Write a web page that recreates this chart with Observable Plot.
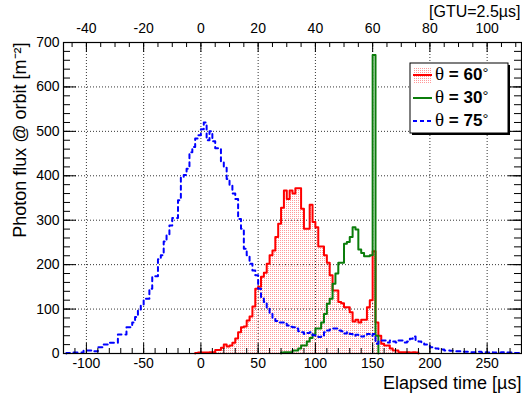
<!DOCTYPE html>
<html><head><meta charset="utf-8">
<script src="https://cdn.jsdelivr.net/npm/d3@7"></script>
<script src="https://cdn.jsdelivr.net/npm/@observablehq/plot@0.6"></script>
<style>body{margin:0;background:#fff} svg{display:block}</style>
</head><body><div id="chart"></div>
<script>
// ---- data (bin width 2.5 µs = 1 GTU) ----
const binWidth = 2.5;
const gtuMicroseconds = 2.5;

const redStart = -5;     // theta = 60°
const redValues = [1,2,2,2,2,3,3,8,8,13, 20,16,18,24,34,48,59,61,74,83,
  106,146,150,173,182,202,221,232,262,292, 328,367,348,367,360,372,372,326,281,281,
  335,296,284,241,241,221,204,176,142,142, 116,113,104,104,93,72,76,70,76,76,
  104,120,230,70,40,22,18,18,11,7, 7,3,3,3,3,2,3,2];

const greenStart = 70;   // theta = 30°
const greenValues = [2,3,3,3,7,7,11,18,18,27, 35,43,56,56,70,89,112,123,157,180,
  204,204,247,251,262,284,279,234,226,219, 219,221,672,40];

const blueStart = -117.5; // theta = 75°
const blueValues = [1,1,2,2,2,2,7,7,7,5, 5,14,14,20,20,24,24,24,43,43,
  43,59,59,70,82,99,110,123,123,146, 174,174,212,221,252,266,288,305,305,345,
  397,402,416,453,465,484,491,505,520,480, 500,478,462,462,430,418,393,378,360,348,
  303,281,236,221,202,187,176,146,127,116, 101,89,80,73,70,70,67,63,60,59,
  56,50,48,44,46,48,41,40,37,40, 48,52,54,56,56,52,50,45,48,44,
  40,42,40,38,40,44,40,44,22,27, 29,29,25,29,27,25,29,29,25,27,
  33,38,29,27,25,20,20,14,12,11, 9,9,7,7,6,6,5,5,4,4,
  4,3,3,3,4,2,3,2,3,2, 2,2,3,2,2,2,1,1,1];

const xMajorTicks = [-100,-50,0,50,100,150,200,250];
const xMinorTicks = d3.range(-120, 281, 10);
const gtuMajorTicks = [-40,-20,0,20,40,60,80,100];
const gtuMinorTicks = d3.range(-45, 112, 5);
const yMajorTicks = [0,100,200,300,400,500,600,700];
const yMinorTicks = d3.range(0, 701, 20);
const yGrid = [100,200,300,400,500,600];

const seriesLabels = ["60", "30", "75"];

function histPoints(start, values) {
  const pts = [{t: start, v: 0}];
  values.forEach((v, i) => pts.push({t: start + i * binWidth, v}));
  pts.push({t: start + values.length * binWidth, v: 0});
  return pts;
}
const red = histPoints(redStart, redValues);
const green = histPoints(greenStart, greenValues);
const blue = histPoints(blueStart, blueValues);

const W = 522, H = 401, mL = 63, mR = 1, mT = 42, mB = 48;
const fw = W - mL - mR, fh = H - mT - mB;
const font = "'Liberation Sans', Arial, Helvetica, sans-serif";

const chart = Plot.plot({
  width: W, height: H,
  marginLeft: mL, marginRight: mR, marginTop: mT, marginBottom: mB,
  style: {fontFamily: font, background: "#fff", color: "#000"},
  x: {domain: [-120, 280]},
  y: {domain: [0, 700]},
  marks: [
    Plot.ruleX(xMajorTicks, {x: d => d, stroke: "#000", strokeDasharray: "1,2", strokeOpacity: 0.8}),
    Plot.ruleY(yGrid, {y: d => d, stroke: "#000", strokeDasharray: "1,2", strokeOpacity: 0.8}),
    Plot.areaY(red, {x: "t", y: "v", curve: "step-after", fill: "url(#redDots)"}),
    Plot.line(red, {x: "t", y: "v", curve: "step-after", stroke: "#ff0000", strokeWidth: 2}),
    Plot.line(green, {x: "t", y: "v", curve: "step-after", stroke: "#0b7d0b", strokeWidth: 2}),
    Plot.line(blue, {x: "t", y: "v", curve: "step-after", stroke: "#0000ff", strokeWidth: 2, strokeDasharray: "4,4"}),
    // ticks (inward)
    Plot.tickX(xMinorTicks, {x: d => d, insetTop: fh - 5}),
    Plot.tickX(xMajorTicks, {x: d => d, insetTop: fh - 10}),
    Plot.tickX(gtuMinorTicks.map(g => g * gtuMicroseconds), {x: d => d, insetBottom: fh - 5}),
    Plot.tickX(gtuMajorTicks.map(g => g * gtuMicroseconds), {x: d => d, insetBottom: fh - 10}),
    Plot.tickY(yMinorTicks, {y: d => d, insetRight: fw - 7}),
    Plot.tickY(yMajorTicks, {y: d => d, insetRight: fw - 13}),
    Plot.tickY(yMinorTicks, {y: d => d, insetLeft: fw - 7}),
    Plot.tickY(yMajorTicks, {y: d => d, insetLeft: fw - 13}),
    Plot.axisX({anchor: "bottom", ticks: xMajorTicks, tickSize: 0, tickPadding: 5, fontSize: 14, tickFormat: d => String(d), label: null}),
    Plot.axisX({anchor: "top", ticks: gtuMajorTicks.map(g => g * gtuMicroseconds), tickSize: 0, tickPadding: 10, fontSize: 14, tickFormat: d => String(d / gtuMicroseconds), label: null}),
    Plot.axisY({anchor: "left", ticks: yMajorTicks, tickSize: 0, tickPadding: 4, fontSize: 14, tickFormat: d => String(d), label: null}),
    Plot.text(["Elapsed time [µs]"], {frameAnchor: "bottom-right", textAnchor: "end", lineAnchor: "bottom", dy: 35, fontSize: 18}),
    Plot.text(["[GTU=2.5µs]"], {frameAnchor: "top-right", textAnchor: "end", lineAnchor: "bottom", dy: -26, dx: -1, fontSize: 16}),
    Plot.text(["Photon flux @ orbit [m⁻²]"], {frameAnchor: "top-left", rotate: -90, textAnchor: "end", lineAnchor: "middle", dx: -43, fontSize: 18}),
    Plot.frame({stroke: "#000", strokeWidth: 1.2})
  ]
});

const svg = d3.select(chart);
const defs = svg.insert("defs", ":first-child");
const pat = defs.append("pattern").attr("id", "redDots").attr("width", 2).attr("height", 2).attr("patternUnits", "userSpaceOnUse");
pat.append("rect").attr("width", 1).attr("height", 1).attr("fill", "#ff0000").attr("fill-opacity", 0.4);

// legend
const lg = svg.append("g").attr("font-family", font).attr("text-anchor", "start");
lg.append("rect").attr("x", 412).attr("y", 65).attr("width", 98).attr("height", 70).attr("fill", "#000");
lg.append("rect").attr("x", 410).attr("y", 63).attr("width", 98).attr("height", 70).attr("fill", "#fff").attr("stroke", "#000").attr("stroke-width", 1);
lg.append("rect").attr("x", 413).attr("y", 67).attr("width", 19).attr("height", 16).attr("fill", "url(#redDots)");
lg.append("line").attr("x1", 413).attr("x2", 432).attr("y1", 75).attr("y2", 75).attr("stroke", "#ff0000").attr("stroke-width", 2);
lg.append("line").attr("x1", 413).attr("x2", 432).attr("y1", 98).attr("y2", 98).attr("stroke", "#0b7d0b").attr("stroke-width", 2);
lg.append("line").attr("x1", 413).attr("x2", 432).attr("y1", 121).attr("y2", 121).attr("stroke", "#0000ff").attr("stroke-width", 2).attr("stroke-dasharray", "4,3");
[80, 103, 126].forEach((yb, i) => {
  const t = lg.append("text").attr("x", 435).attr("y", yb).attr("font-size", 17).attr("text-anchor", "start");
  t.append("tspan").attr("font-family", "'Liberation Serif', 'DejaVu Serif', serif").attr("font-size", 19).text("θ");
  t.append("tspan").attr("font-weight", "bold").text(" = " + seriesLabels[i]);
  t.append("tspan").attr("font-size", 15).attr("dy", -2).text("°");
});

document.getElementById("chart").appendChild(chart);
</script>
</body></html>
